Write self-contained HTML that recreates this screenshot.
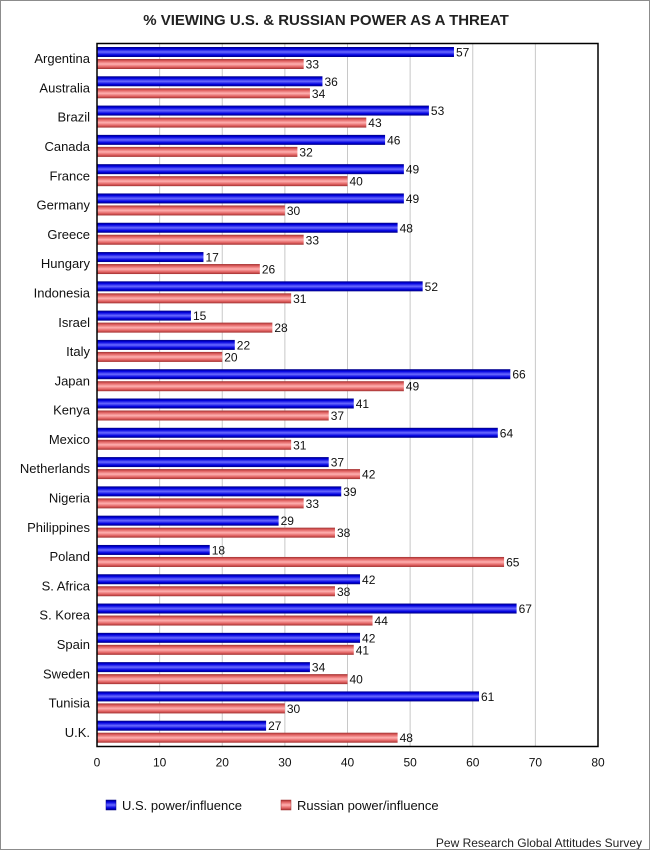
<!DOCTYPE html>
<html><head><meta charset="utf-8"><style>
body{margin:0;background:#fff;font-family:"Liberation Sans","DejaVu Sans",sans-serif;}
#wrap{position:relative;width:648px;height:848px;border:1px solid #8c8c8c;}
</style></head><body>
<div id="wrap">
<svg id="chart" width="648" height="848" xmlns="http://www.w3.org/2000/svg">
<defs>
<linearGradient id="gb" x1="0" y1="0" x2="0" y2="1">
<stop offset="0" stop-color="#000080"/><stop offset="0.2" stop-color="#0000e0"/><stop offset="0.5" stop-color="#6a6aff"/><stop offset="0.8" stop-color="#0000e0"/><stop offset="1" stop-color="#000080"/></linearGradient>
<linearGradient id="gr" x1="0" y1="0" x2="0" y2="1">
<stop offset="0" stop-color="#a03030"/><stop offset="0.2" stop-color="#e06060"/><stop offset="0.5" stop-color="#ffb0b0"/><stop offset="0.8" stop-color="#e06060"/><stop offset="1" stop-color="#a03030"/></linearGradient>
</defs>
<text x="325" y="24" text-anchor="middle" font-size="15" font-weight="bold" fill="#222">% VIEWING U.S. &amp; RUSSIAN POWER AS A THREAT</text>
<g id="plot"></g>
<rect x="105" y="799" width="10" height="10" fill="url(#gb)" stroke="#000080" stroke-width="0.5"/>
<text x="121" y="809" font-size="13" fill="#111">U.S. power/influence</text>
<rect x="280" y="799" width="10" height="10" fill="url(#gr)" stroke="#a03030" stroke-width="0.5"/>
<text x="296" y="809" font-size="13" fill="#111">Russian power/influence</text>
<text x="641" y="846" text-anchor="end" font-size="12" fill="#222">Pew Research Global Attitudes Survey</text>
</svg>
</div>
<script>
const categories=["Argentina","Australia","Brazil","Canada","France","Germany","Greece","Hungary","Indonesia","Israel","Italy","Japan","Kenya","Mexico","Netherlands","Nigeria","Philippines","Poland","S. Africa","S. Korea","Spain","Sweden","Tunisia","U.K."];
const usValues=[57,36,53,46,49,49,48,17,52,15,22,66,41,64,37,39,29,18,42,67,42,34,61,27];
const ruValues=[33,34,43,32,40,30,33,26,31,28,20,49,37,31,42,33,38,65,38,44,41,40,30,48];
const xTicks=[0,10,20,30,40,50,60,70,80];
const NS="http://www.w3.org/2000/svg";
const L=96,R=597,T=42.5,B=745.5,XMAX=80;
const band=(B-T)/categories.length;
const x=v=>L+(R-L)*v/XMAX;
const g=document.getElementById('plot');
function mk(tag,attrs){const e=document.createElementNS(NS,tag);for(const k in attrs)e.setAttribute(k,attrs[k]);g.appendChild(e);return e;}
xTicks.forEach(t=>{
 if(t>0&&t<XMAX){const l=mk('line',{x1:x(t),x2:x(t),y1:T,y2:B,stroke:'#c8c8c8','stroke-width':1});
 
 }
 const tx=mk('text',{x:x(t),y:B+20,'text-anchor':'middle','font-size':12,fill:'#111'});tx.textContent=t;
 
 
});
categories.forEach((c,i)=>{
 const y0=T+i*band;
 const lab=mk('text',{x:L-7,y:y0+band/2+5,'text-anchor':'end','font-size':13,fill:'#111'});lab.textContent=c;
 
 
 const b1=mk('rect',{x:L,y:y0+3.5,width:x(usValues[i])-L,height:10,fill:'url(#gb)'});
 
 
 const t1=mk('text',{x:x(usValues[i])+2,y:y0+13,'font-size':12,fill:'#111'});t1.textContent=usValues[i];
 
 
 const b2=mk('rect',{x:L,y:y0+15.5,width:x(ruValues[i])-L,height:10,fill:'url(#gr)'});
 
 
 const t2=mk('text',{x:x(ruValues[i])+2,y:y0+25,'font-size':12,fill:'#111'});t2.textContent=ruValues[i];
 
 
});
const fr=mk('rect',{x:L,y:T,width:R-L,height:B-T,fill:'none',stroke:'#000','stroke-width':1.5});


</script>
</body></html>
